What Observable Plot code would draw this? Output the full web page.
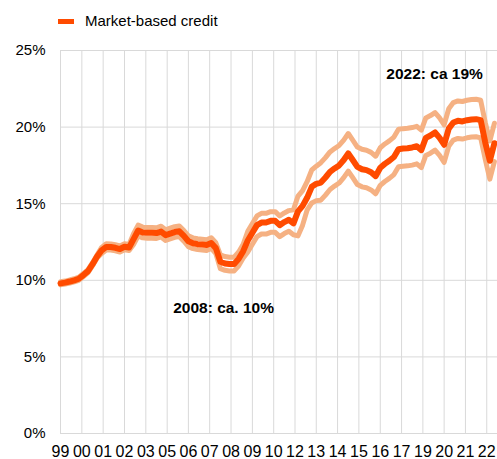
<!DOCTYPE html>
<html><head><meta charset="utf-8">
<script src="https://cdn.jsdelivr.net/npm/d3@7"></script>
<script src="https://cdn.jsdelivr.net/npm/@observablehq/plot@0.6"></script>
<style>
body{margin:0;background:#fff;font-family:"Liberation Sans",Arial,sans-serif;}
#legend{position:relative;height:38px;width:497px;}
#legend .sw{position:absolute;left:58px;top:19px;width:16px;height:5px;background:#FF4B00;}
#legend .lb{position:absolute;left:85px;top:12px;font-size:15px;color:#000;line-height:18px;}
</style></head><body>
<div id="legend"><span class="sw"></span><span class="lb">Market-based credit</span></div>
<div id="chart"></div>
<script>
// Quarterly observations, first one March 1999
const startYear = 1999, startMonth = 2;
const mainSeries = [9.8, 9.85, 9.92, 10.0, 10.1, 10.34, 10.6, 11.05, 11.55, 11.95,
 12.18, 12.17, 12.12, 12.04, 12.19, 12.14, 12.69, 13.25, 13.12, 13.1,
 13.1, 13.08, 13.18, 12.95, 13.05, 13.15, 13.2, 12.9, 12.55, 12.42,
 12.36, 12.33, 12.3, 12.43, 12.1, 11.21, 11.1, 11.06, 11.06, 11.4,
 11.9, 12.6, 13.1, 13.6, 13.77, 13.77, 13.88, 13.88, 13.6, 13.8,
 13.95, 13.72, 14.5, 14.86, 15.4, 16.1, 16.3, 16.38, 16.71, 17.08,
 17.3, 17.5, 17.85, 18.28, 17.85, 17.4, 17.25, 17.19, 17.05, 16.8,
 17.35, 17.6, 17.8, 18.05, 18.56, 18.6, 18.62, 18.67, 18.75, 18.5,
 19.3, 19.45, 19.65, 19.3, 18.85, 19.9, 20.3, 20.41, 20.37, 20.45,
 20.5, 20.52, 20.45, 19.0, 17.8, 18.95];
const upperSeries = [9.9, 9.95, 10.02, 10.1, 10.2, 10.44, 10.7, 11.15, 11.65,
 12.15, 12.38, 12.37, 12.32, 12.24, 12.39, 12.34,
 13.04, 13.6, 13.47, 13.45, 13.45, 13.43, 13.53, 13.3, 13.4, 13.5, 13.55, 13.25, 12.9, 12.77, 12.71, 12.68, 12.65, 12.78, 12.45,
 11.66, 11.55, 11.51, 11.51, 11.85, 12.35,
 13.2, 13.7, 14.2, 14.37, 14.37, 14.48, 14.48, 14.2, 14.4, 14.55, 14.6,
 15.5, 15.86, 16.45, 17.2, 17.45,
 17.68, 18.01, 18.38, 18.6, 18.8, 19.15, 19.58, 19.15, 18.7, 18.55, 18.49, 18.35, 18.1, 18.65, 18.9, 19.1, 19.35, 19.86, 19.9, 19.92, 19.97, 20.05, 19.8, 20.6, 20.75, 20.95, 20.6, 20.15, 21.2, 21.6, 21.71, 21.67, 21.75, 21.8, 21.82, 21.75, 20.3, 19.1, 20.25];
const lowerSeries = [9.7, 9.75, 9.82, 9.9, 10.0, 10.24, 10.5, 10.95, 11.45,
 11.75, 11.98, 11.97, 11.92, 11.84, 11.99, 11.94,
 12.34, 12.9, 12.77, 12.75, 12.75, 12.73, 12.83, 12.6, 12.7, 12.8, 12.85, 12.55, 12.2, 12.07, 12.01, 11.98, 11.95, 12.08, 11.75,
 10.76, 10.65, 10.61, 10.61, 10.95, 11.45,
 11.85, 12.35, 12.85, 13.02, 13.02, 13.13, 13.13, 12.85, 13.05, 13.2, 12.97,
 12.9, 13.6, 14.6, 15.05, 15.2,
 15.23, 15.56, 15.93, 16.15, 16.35, 16.7, 17.13, 16.7, 16.25, 16.1, 16.04, 15.9, 15.65, 16.2, 16.45, 16.65, 16.9, 17.41, 17.45, 17.47, 17.52, 17.6, 17.35, 18.15, 18.3, 18.5, 18.15, 17.7, 18.75, 19.15, 19.26, 19.22, 19.3, 19.35, 19.37, 19.3, 17.9, 16.6, 17.75];

// Category-axis labels: one every 14 months
const xLabels = ["99","00","01","02","03","05","06","07","08","09","10","12","13","14","15","16","17","19","20","21","22"];
const labelStepMonths = 14;
const yTicks = [0, 5, 10, 15, 20, 25];

// Annotations
const noteTexts = ["2008: ca. 10%", "2022: ca 19%"];
const noteMonths = [74, 214];   // months after first observation
const noteValues = [8.2, 23.45];

const mdate = m => new Date(Date.UTC(startYear, startMonth + m, 1));
const data = mainSeries.map((v, q) => ({date: mdate(3 * q), main: v, upper: upperSeries[q], lower: lowerSeries[q]}));
const tickDates = xLabels.map((_, i) => mdate(labelStepMonths * i));
const labelMap = new Map(tickDates.map((d, i) => [+d, xLabels[i]]));
const notes = noteTexts.map((t, i) => ({text: t, date: mdate(noteMonths[i]), v: noteValues[i]}));

const chart = Plot.plot({
  width: 497, height: 421,
  marginTop: 12, marginLeft: 60, marginRight: 0, marginBottom: 26,
  style: {fontFamily: "'Liberation Sans', Arial, sans-serif", background: "#fff", color: "#000", overflow: "visible"},
  x: {type: "utc", domain: [mdate(0), mdate(287)]},
  y: {domain: [0, 25]},
  marks: [
    Plot.ruleY(yTicks, {y: d => d, stroke: "#D9D9D9", strokeWidth: 1}),
    Plot.ruleX(tickDates, {x: d => d, stroke: "#D9D9D9", strokeWidth: 1}),
    Plot.axisX(tickDates, {tickSize: 0, tickPadding: 12, fontSize: 16, tickFormat: d => labelMap.get(+d), label: null}),
    Plot.axisY(yTicks, {tickSize: 0, tickPadding: 15, fontSize: 15, tickFormat: d => d + "%", label: null}),
    Plot.line(data, {x: "date", y: "upper", stroke: "#F5B183", strokeWidth: 5}),
    Plot.line(data, {x: "date", y: "lower", stroke: "#F5B183", strokeWidth: 5}),
    Plot.line(data, {x: "date", y: "main", stroke: "#FF4B00", strokeWidth: 6}),
    Plot.text(notes, {x: "date", y: "v", text: "text", textAnchor: "start", fontWeight: "bold", fontSize: 15.5, fill: "#000"})
  ]
});
document.getElementById("chart").appendChild(chart);
</script>
</body></html>
